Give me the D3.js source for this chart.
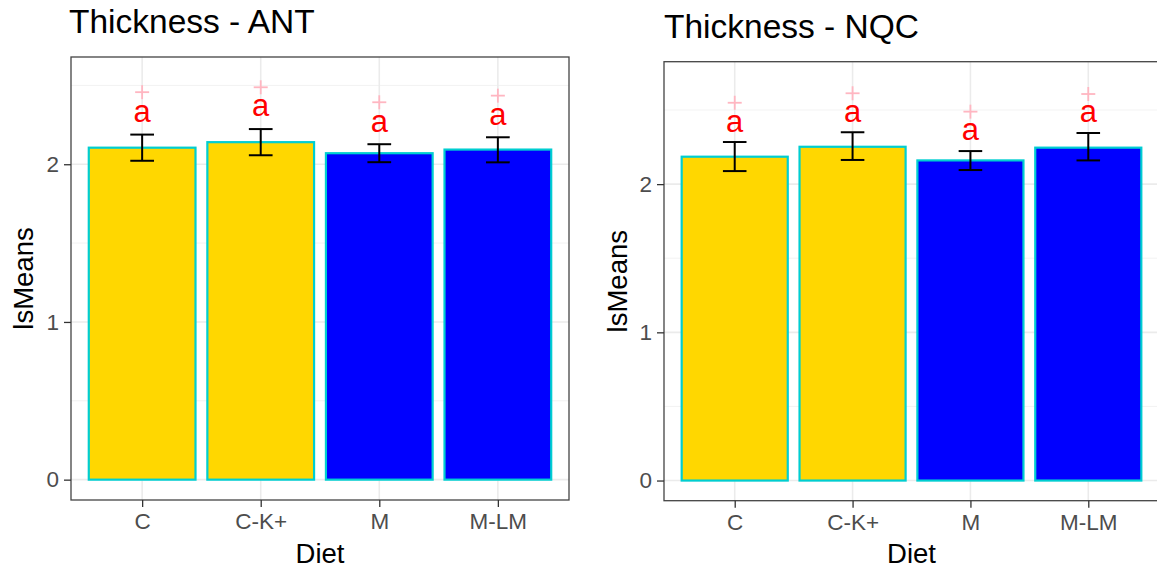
<!DOCTYPE html>
<html>
<head>
<meta charset="utf-8">
<script src="https://cdn.jsdelivr.net/npm/d3@7"></script>
<style>
  html, body { margin: 0; padding: 0; background: #ffffff; }
  svg { display: block; font-family: "Liberation Sans", Arial, sans-serif; }
</style>
</head>
<body>
<svg id="chart" width="1157" height="571"></svg>
<script>
// Diet groups shared by both panels
const diets = ["C", "C-K+", "M", "M-LM"];
const dietFill = ["#FFD700", "#FFD700", "#0000FF", "#0000FF"];
const yTicks = [0, 1, 2];
const yMinor = [0.5, 1.5, 2.5];

// Thickness - ANT
const antMeans = [2.105, 2.140, 2.070, 2.093];
const antLower = [2.022, 2.057, 2.013, 2.012];
const antUpper = [2.188, 2.223, 2.127, 2.171];
const antLetterY = [2.32, 2.36, 2.26, 2.30];
const antPlusY = [2.457, 2.488, 2.393, 2.435];
const antLetters = ["a", "a", "a", "a"];

// Thickness - NQC
const nqcMeans = [2.185, 2.252, 2.160, 2.246];
const nqcLower = [2.088, 2.163, 2.095, 2.160];
const nqcUpper = [2.284, 2.350, 2.223, 2.345];
const nqcLetterY = [2.41, 2.478, 2.354, 2.476];
const nqcPlusY = [2.549, 2.613, 2.489, 2.608];
const nqcLetters = ["a", "a", "a", "a"];

const svg = d3.select("#chart");
const FONT = "Liberation Sans, Arial, sans-serif";

function drawPanel(p) {
  const g = svg.append("g");
  const { left, right, top, bottom } = p.box;

  // discrete axis with 0.6 unit padding on each side
  const x = d3.scalePoint().domain(diets).range([left, right]).padding(0.6);
  const step = x.step();
  const y = d3.scaleLinear().domain(p.yDomain).range([bottom, top]);

  // panel background grid
  g.selectAll(".minor").data(yMinor).join("line")
    .attr("x1", left).attr("x2", right)
    .attr("y1", d => y(d)).attr("y2", d => y(d))
    .attr("stroke", "#F0F0F0").attr("stroke-width", 0.9);
  g.selectAll(".majorY").data(yTicks).join("line")
    .attr("x1", left).attr("x2", right)
    .attr("y1", d => y(d)).attr("y2", d => y(d))
    .attr("stroke", "#EBEBEB").attr("stroke-width", 1.6);
  g.selectAll(".majorX").data(diets).join("line")
    .attr("x1", d => x(d)).attr("x2", d => x(d))
    .attr("y1", top).attr("y2", bottom)
    .attr("stroke", "#EBEBEB").attr("stroke-width", 1.6);

  const rows = diets.map((d, i) => ({
    diet: d, fill: dietFill[i], mean: p.means[i],
    lo: p.lower[i], hi: p.upper[i],
    letter: p.letters[i], ly: p.letterY[i], py: p.plusY[i]
  }));

  // bars
  const bw = step * 0.9;
  g.selectAll(".bar").data(rows).join("rect")
    .attr("x", d => x(d.diet) - bw / 2)
    .attr("width", bw)
    .attr("y", d => y(d.mean))
    .attr("height", d => y(0) - y(d.mean))
    .attr("fill", d => d.fill)
    .attr("stroke", "#00CED1").attr("stroke-width", 2.2);

  // error bars
  const ew = step * 0.2;
  const eb = g.selectAll(".err").data(rows).join("g")
    .attr("stroke", "#000").attr("stroke-width", 2).attr("fill", "none");
  eb.append("line")
    .attr("x1", d => x(d.diet)).attr("x2", d => x(d.diet))
    .attr("y1", d => y(d.lo)).attr("y2", d => y(d.hi));
  eb.append("line")
    .attr("x1", d => x(d.diet) - ew / 2).attr("x2", d => x(d.diet) + ew / 2)
    .attr("y1", d => y(d.hi)).attr("y2", d => y(d.hi));
  eb.append("line")
    .attr("x1", d => x(d.diet) - ew / 2).attr("x2", d => x(d.diet) + ew / 2)
    .attr("y1", d => y(d.lo)).attr("y2", d => y(d.lo));

  // group letters
  g.selectAll(".letter").data(rows).join("text")
    .attr("x", d => x(d.diet))
    .attr("y", d => y(d.ly))
    .attr("dy", "0.27em")
    .attr("text-anchor", "middle")
    .attr("fill", "#FF0000")
    .attr("font-size", 31)
    .text(d => d.letter);

  // pink "+" markers
  const ps = 7;
  const plus = g.selectAll(".plus").data(rows).join("g")
    .attr("stroke", "#FFB6C1").attr("stroke-width", 1.8);
  plus.append("line")
    .attr("x1", d => x(d.diet) - ps).attr("x2", d => x(d.diet) + ps)
    .attr("y1", d => y(d.py)).attr("y2", d => y(d.py));
  plus.append("line")
    .attr("x1", d => x(d.diet)).attr("x2", d => x(d.diet))
    .attr("y1", d => y(d.py) - ps).attr("y2", d => y(d.py) + ps);

  // panel border
  g.append("rect")
    .attr("x", left).attr("y", top)
    .attr("width", right - left).attr("height", bottom - top)
    .attr("fill", "none").attr("stroke", "#444").attr("stroke-width", 1.3);

  // y axis
  const yAxis = g.append("g")
    .attr("transform", `translate(${left},0)`)
    .call(d3.axisLeft(y).tickValues(yTicks).tickFormat(d3.format("d")).tickSize(7).tickPadding(5));
  yAxis.select(".domain").remove();
  yAxis.selectAll("line").attr("stroke", "#333").attr("stroke-width", 1.3);
  yAxis.selectAll("text")
    .attr("fill", "#4D4D4D").attr("font-size", 22.5).attr("font-family", FONT);

  // x axis
  const xAxis = g.append("g")
    .attr("transform", `translate(0,${bottom})`)
    .call(d3.axisBottom(x).tickSize(7).tickPadding(6));
  xAxis.select(".domain").remove();
  xAxis.selectAll("line").attr("stroke", "#333").attr("stroke-width", 1.3);
  xAxis.selectAll("text")
    .attr("fill", "#4D4D4D").attr("font-size", 22.5).attr("font-family", FONT);

  // titles
  g.append("text")
    .attr("x", (left + right) / 2).attr("y", p.xTitleY)
    .attr("text-anchor", "middle").attr("font-size", 27.5).attr("fill", "#000")
    .text("Diet");
  g.append("text")
    .attr("transform", `translate(${p.yTitleX},${(top + bottom) / 2}) rotate(-90)`)
    .attr("text-anchor", "middle").attr("font-size", 27.5).attr("fill", "#000")
    .text("lsMeans");
  g.append("text")
    .attr("x", p.titleX).attr("y", p.titleY)
    .attr("font-size", 33.5).attr("fill", "#000")
    .text(p.title);
}

drawPanel({
  title: "Thickness - ANT",
  means: antMeans, lower: antLower, upper: antUpper,
  letters: antLetters, letterY: antLetterY, plusY: antPlusY,
  yDomain: [-0.129, 2.68],
  box: { left: 71, right: 569, top: 57, bottom: 500 },
  titleX: 69, titleY: 33, yTitleX: 33, xTitleY: 563
});

drawPanel({
  title: "Thickness - NQC",
  means: nqcMeans, lower: nqcLower, upper: nqcUpper,
  letters: nqcLetters, letterY: nqcLetterY, plusY: nqcPlusY,
  yDomain: [-0.136, 2.826],
  box: { left: 664, right: 1159, top: 61.7, bottom: 500.7 },
  titleX: 664, titleY: 38, yTitleX: 627, xTitleY: 563
});
</script>
</body>
</html>
